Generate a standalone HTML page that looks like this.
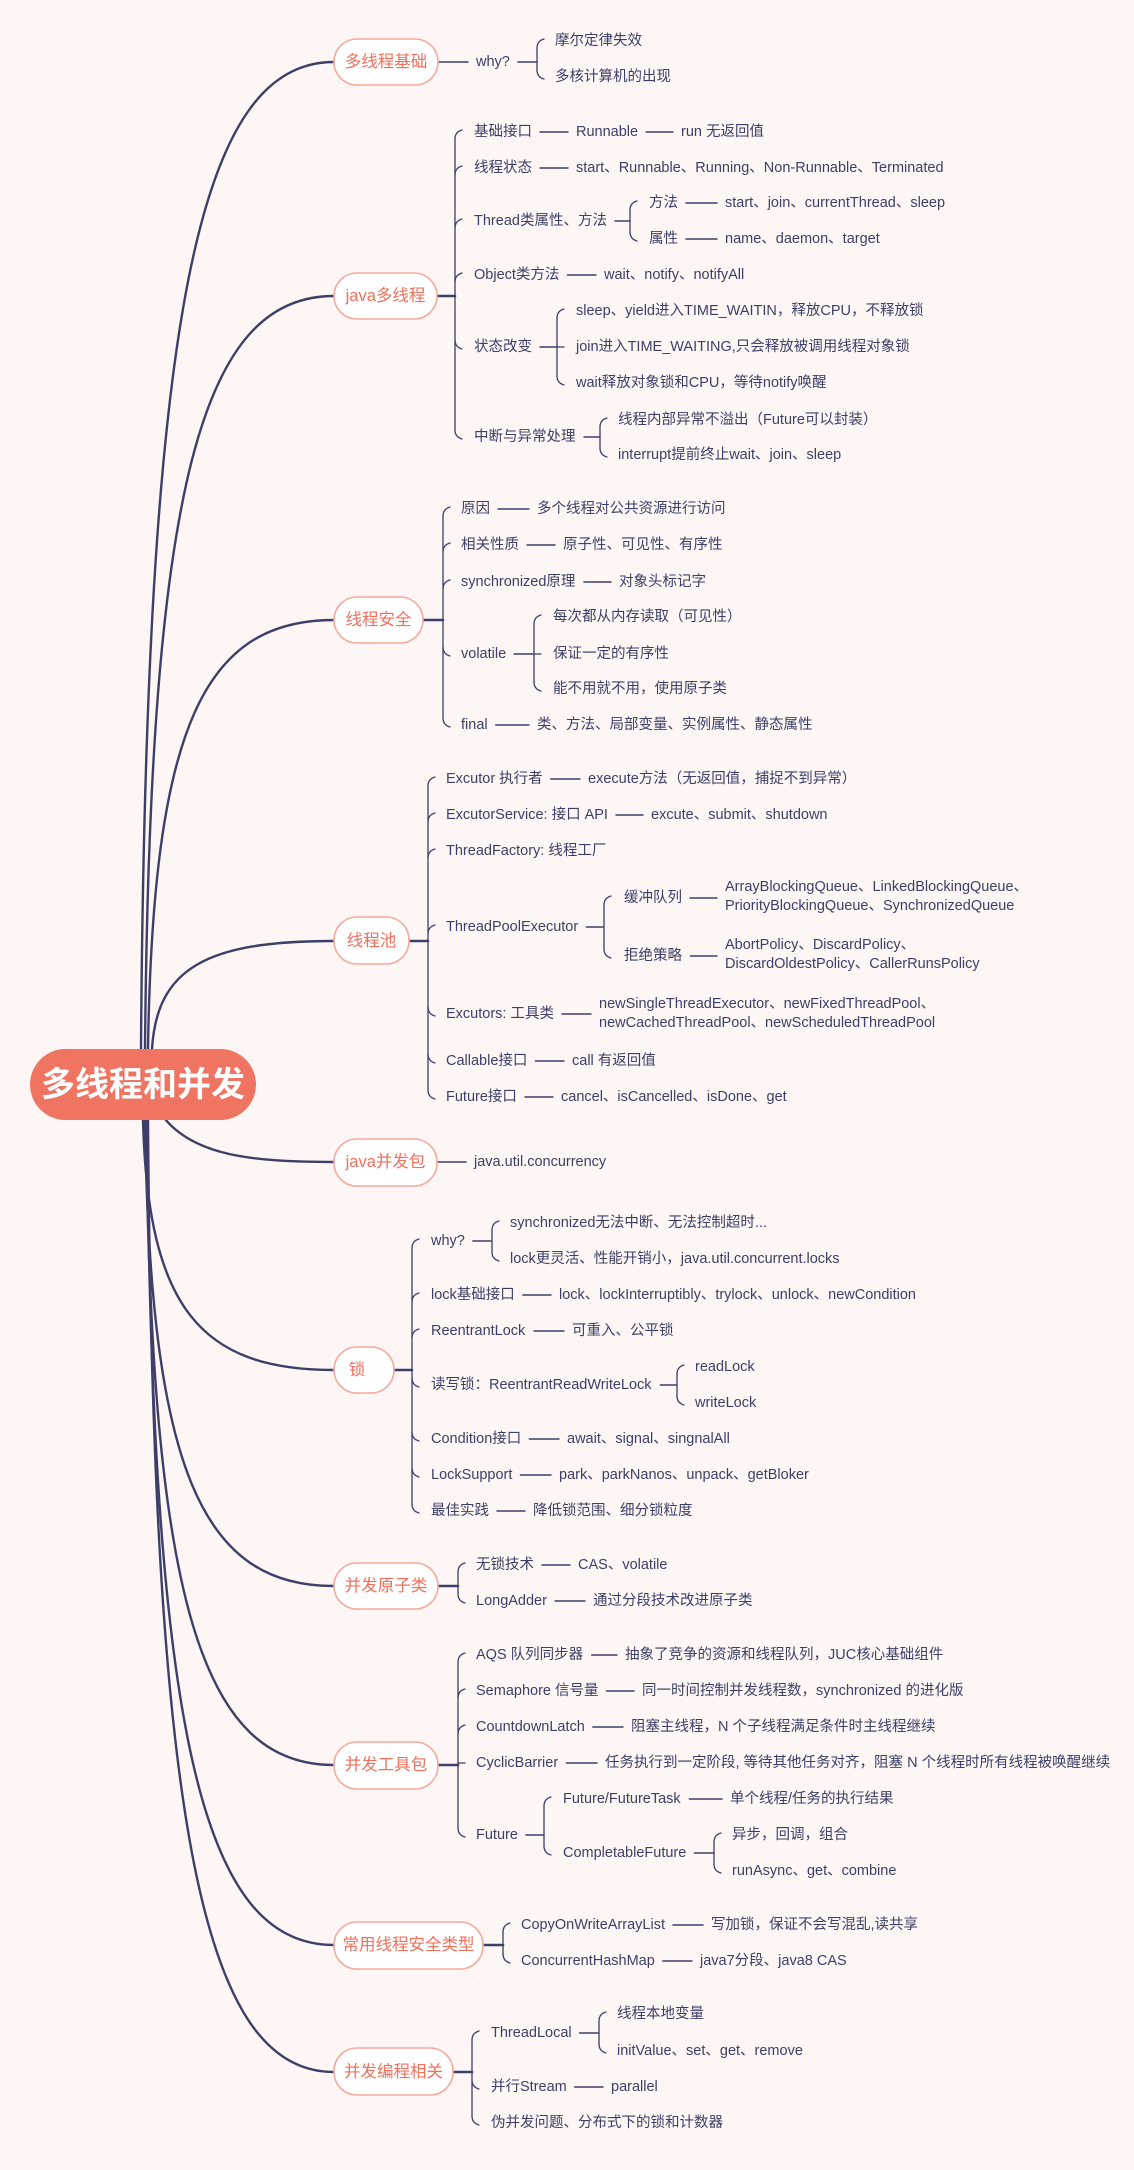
<!DOCTYPE html>
<html><head><meta charset="utf-8">
<style>
html,body{margin:0;padding:0;background:#fdf6f4;}
svg{display:block;}
text{font-family:"Liberation Sans","Noto Sans CJK SC",sans-serif;font-size:14.5px;fill:#3d3f68;dominant-baseline:central;}
.b{font-size:16.5px;fill:#f0705c;text-anchor:middle;}
.c{font-size:34px;fill:#ffffff;text-anchor:middle;font-weight:bold;}
.box{fill:#ffffff;stroke:#f6a99d;stroke-width:1.6;}
</style></head><body>
<svg id="svg" width="1134" height="2170" viewBox="0 0 1134 2170" xmlns="http://www.w3.org/2000/svg">
<rect width="1134" height="2170" fill="#fdf6f4"/>
<g id="lines" fill="none" stroke="#3d3f68" stroke-linecap="round"></g>

<rect x="30" y="1049" width="226" height="71" rx="35.5" fill="#f07462"/>
<text class="c" x="143" y="1085">多线程和并发</text>

<rect class="box" x="334" y="39" width="104" height="46" rx="23"/><text class="b" x="386" y="62">多线程基础</text>
<rect class="box" x="334" y="273" width="103" height="46" rx="23"/><text class="b" x="385.5" y="296">java多线程</text>
<rect class="box" x="334" y="597" width="89" height="46" rx="23"/><text class="b" x="378.5" y="620">线程安全</text>
<rect class="box" x="334" y="917" width="75" height="47" rx="23"/><text class="b" x="371.5" y="941">线程池</text>
<rect class="box" x="334" y="1139" width="103" height="47" rx="23"/><text class="b" x="385.5" y="1162">java并发包</text>
<rect class="box" x="334" y="1347" width="60" height="46" rx="23"/><text class="b" x="357" y="1370">锁</text>
<rect class="box" x="334" y="1563" width="104" height="46" rx="23"/><text class="b" x="386" y="1586">并发原子类</text>
<rect class="box" x="334" y="1742" width="104" height="47" rx="23"/><text class="b" x="386" y="1765">并发工具包</text>
<rect class="box" x="334" y="1922" width="149" height="47" rx="23"/><text class="b" x="408.5" y="1945">常用线程安全类型</text>
<rect class="box" x="334" y="2048" width="119" height="47" rx="23"/><text class="b" x="393.5" y="2072">并发编程相关</text>

<text id="g1a" x="476" y="62">why?</text>
<text x="555" y="41">摩尔定律失效</text>
<text x="555" y="77">多核计算机的出现</text>

<text id="g2a" x="474" y="132">基础接口</text>
<text id="g2a1" x="576" y="132">Runnable</text>
<text x="681" y="132">run 无返回值</text>
<text id="g2b" x="474" y="168">线程状态</text>
<text x="576" y="168">start、Runnable、Running、Non-Runnable、Terminated</text>
<text id="g2c" x="474" y="221">Thread类属性、方法</text>
<text id="g2c1" x="649" y="203">方法</text>
<text x="725" y="203">start、join、currentThread、sleep</text>
<text id="g2c2" x="649" y="239">属性</text>
<text x="725" y="239">name、daemon、target</text>
<text id="g2d" x="474" y="275">Object类方法</text>
<text x="604" y="275">wait、notify、notifyAll</text>
<text id="g2e" x="474" y="347">状态改变</text>
<text x="576" y="311">sleep、yield进入TIME_WAITIN，释放CPU，不释放锁</text>
<text x="576" y="347">join进入TIME_WAITING,只会释放被调用线程对象锁</text>
<text x="576" y="383">wait释放对象锁和CPU，等待notify唤醒</text>
<text id="g2f" x="474" y="437">中断与异常处理</text>
<text x="618" y="420">线程内部异常不溢出（Future可以封装）</text>
<text x="618" y="455">interrupt提前终止wait、join、sleep</text>

<text id="g3a" x="461" y="509">原因</text>
<text x="537" y="509">多个线程对公共资源进行访问</text>
<text id="g3b" x="461" y="545">相关性质</text>
<text x="563" y="545">原子性、可见性、有序性</text>
<text id="g3c" x="461" y="582">synchronized原理</text>
<text x="619" y="582">对象头标记字</text>
<text id="g3d" x="461" y="654">volatile</text>
<text x="553" y="617">每次都从内存读取（可见性）</text>
<text x="553" y="654">保证一定的有序性</text>
<text x="553" y="689">能不用就不用，使用原子类</text>
<text id="g3e" x="461" y="725">final</text>
<text x="537" y="725">类、方法、局部变量、实例属性、静态属性</text>

<text id="g4a" x="446" y="779">Excutor 执行者</text>
<text x="588" y="779">execute方法（无返回值，捕捉不到异常）</text>
<text id="g4b" x="446" y="815">ExcutorService: 接口 API</text>
<text x="651" y="815">excute、submit、shutdown</text>
<text x="446" y="851">ThreadFactory: 线程工厂</text>
<text id="g4d" x="446" y="927">ThreadPoolExecutor</text>
<text id="g4d1" x="624" y="898">缓冲队列</text>
<text x="725" y="887">ArrayBlockingQueue、LinkedBlockingQueue、</text>
<text x="725" y="906">PriorityBlockingQueue、SynchronizedQueue</text>
<text id="g4d2" x="624" y="956">拒绝策略</text>
<text x="725" y="945">AbortPolicy、DiscardPolicy、</text>
<text x="725" y="964">DiscardOldestPolicy、CallerRunsPolicy</text>
<text id="g4e" x="446" y="1014">Excutors: 工具类</text>
<text x="599" y="1004">newSingleThreadExecutor、newFixedThreadPool、</text>
<text x="599" y="1023">newCachedThreadPool、newScheduledThreadPool</text>
<text id="g4f" x="446" y="1061">Callable接口</text>
<text x="572" y="1061">call 有返回值</text>
<text id="g4g" x="446" y="1097">Future接口</text>
<text x="561" y="1097">cancel、isCancelled、isDone、get</text>

<text x="474" y="1162">java.util.concurrency</text>

<text id="g6a" x="431" y="1241">why?</text>
<text x="510" y="1223">synchronized无法中断、无法控制超时...</text>
<text x="510" y="1259">lock更灵活、性能开销小，java.util.concurrent.locks</text>
<text id="g6b" x="431" y="1295">lock基础接口</text>
<text x="559" y="1295">lock、lockInterruptibly、trylock、unlock、newCondition</text>
<text id="g6c" x="431" y="1331">ReentrantLock</text>
<text x="572" y="1331">可重入、公平锁</text>
<text id="g6d" x="431" y="1385">读写锁：ReentrantReadWriteLock</text>
<text x="695" y="1367">readLock</text>
<text x="695" y="1403">writeLock</text>
<text id="g6e" x="431" y="1439">Condition接口</text>
<text x="567" y="1439">await、signal、singnalAll</text>
<text id="g6f" x="431" y="1475">LockSupport</text>
<text x="559" y="1475">park、parkNanos、unpack、getBloker</text>
<text id="g6g" x="431" y="1511">最佳实践</text>
<text x="533" y="1511">降低锁范围、细分锁粒度</text>

<text id="g7a" x="476" y="1565">无锁技术</text>
<text x="578" y="1565">CAS、volatile</text>
<text id="g7b" x="476" y="1601">LongAdder</text>
<text x="593" y="1601">通过分段技术改进原子类</text>

<text id="g8a" x="476" y="1655">AQS 队列同步器</text>
<text x="625" y="1655">抽象了竞争的资源和线程队列，JUC核心基础组件</text>
<text id="g8b" x="476" y="1691">Semaphore 信号量</text>
<text x="642" y="1691">同一时间控制并发线程数，synchronized 的进化版</text>
<text id="g8c" x="476" y="1727">CountdownLatch</text>
<text x="631" y="1727">阻塞主线程，N 个子线程满足条件时主线程继续</text>
<text id="g8d" x="476" y="1763">CyclicBarrier</text>
<text x="605" y="1763">任务执行到一定阶段, 等待其他任务对齐，阻塞 N 个线程时所有线程被唤醒继续</text>
<text id="g8e" x="476" y="1835">Future</text>
<text id="g8e1" x="563" y="1799">Future/FutureTask</text>
<text x="730" y="1799">单个线程/任务的执行结果</text>
<text id="g8e2" x="563" y="1853">CompletableFuture</text>
<text x="732" y="1835">异步，回调，组合</text>
<text x="732" y="1871">runAsync、get、combine</text>

<text id="g9a" x="521" y="1925">CopyOnWriteArrayList</text>
<text x="711" y="1925">写加锁，保证不会写混乱,读共享</text>
<text id="g9b" x="521" y="1961">ConcurrentHashMap</text>
<text x="700" y="1961">java7分段、java8 CAS</text>

<text id="g10a" x="491" y="2033">ThreadLocal</text>
<text x="617" y="2014">线程本地变量</text>
<text x="617" y="2051">initValue、set、get、remove</text>
<text id="g10b" x="491" y="2087">并行Stream</text>
<text x="611" y="2087">parallel</text>
<text x="491" y="2123">伪并发问题、分布式下的锁和计数器</text>
</svg>
<script>
var G=document.getElementById('lines');
function P(d,w){var p=document.createElementNS('http://www.w3.org/2000/svg','path');p.setAttribute('d',d);p.setAttribute('stroke-width',w);G.appendChild(p);}
function R(id){var e=document.getElementById(id);var b=e.getBBox();return {r:b.x+b.width,y:+e.getAttribute('y')};}
function dash(id,x2){var a=R(id);P('M'+(a.r+8)+','+a.y+'H'+(x2-8),1.4);}
function br(bx,py,ys){var mn=Math.min.apply(null,ys),mx=Math.max.apply(null,ys);
 P('M'+bx+','+(mn+7)+'V'+(mx-7),1.3);
 ys.forEach(function(y){var d;if(Math.abs(y-py)<3){d='M'+bx+','+y+'H'+(bx+7);}
 else if(y<py){d='M'+bx+','+(y+7)+'Q'+bx+','+y+' '+(bx+7)+','+(y-2);}
 else{d='M'+bx+','+(y-7)+'Q'+bx+','+y+' '+(bx+7)+','+(y+2);}
 P(d,1.3);});}
function sub(id,bx,ys){var a=R(id);P('M'+(a.r+8)+','+a.y+'H'+bx,1.4);br(bx,a.y,ys);}
function grp(x1,cy,bx,ys){P('M'+x1+','+cy+'H'+bx,2.6);br(bx,cy,ys);}
function mc(sx,sy,cy){P('M'+sx+','+sy+'C'+(sx+5)+','+(sy-(sy-cy)*0.75)+' '+(sx+(334-sx)*0.3)+','+cy+' 334,'+cy,2.4);}
mc(141,1049,62);mc(145,1049,296);mc(148,1049,620);mc(152,1049,941);
P('M165,1119C195,1155 250,1162 334,1162',2.4);
mc(143,1120,1370);mc(145,1120,1586);mc(146,1120,1765);mc(147,1120,1945);mc(148,1120,2072);
P('M438,62H468',1.4);sub('g1a',537,[41,77]);
grp(437,296,455,[132,168,221,275,347,437]);
dash('g2a',576);dash('g2a1',681);dash('g2b',576);
sub('g2c',630,[203,239]);dash('g2c1',725);dash('g2c2',725);
dash('g2d',604);sub('g2e',557,[311,347,383]);sub('g2f',600,[420,455]);
grp(423,620,443,[509,545,582,654,725]);
dash('g3a',537);dash('g3b',563);dash('g3c',619);sub('g3d',534,[617,654,689]);dash('g3e',537);
grp(409,941,428,[779,815,851,927,1014,1061,1097]);
dash('g4a',588);dash('g4b',651);sub('g4d',604,[898,956]);dash('g4d1',725);dash('g4d2',725);
dash('g4e',599);dash('g4f',572);dash('g4g',561);
P('M437,1162H466',1.6);
grp(394,1370,412,[1241,1295,1331,1385,1439,1475,1511]);
sub('g6a',492,[1223,1259]);dash('g6b',559);dash('g6c',572);sub('g6d',677,[1367,1403]);
dash('g6e',567);dash('g6f',559);dash('g6g',533);
grp(438,1586,458,[1565,1601]);dash('g7a',578);dash('g7b',593);
grp(438,1765,458,[1655,1691,1727,1763,1835]);
dash('g8a',625);dash('g8b',642);dash('g8c',631);dash('g8d',605);
sub('g8e',544,[1799,1853]);dash('g8e1',730);sub('g8e2',714,[1835,1871]);
grp(483,1945,503,[1925,1961]);dash('g9a',711);dash('g9b',700);
grp(453,2072,472,[2033,2087,2123]);sub('g10a',599,[2014,2051]);dash('g10b',611);
</script>
</body></html>
